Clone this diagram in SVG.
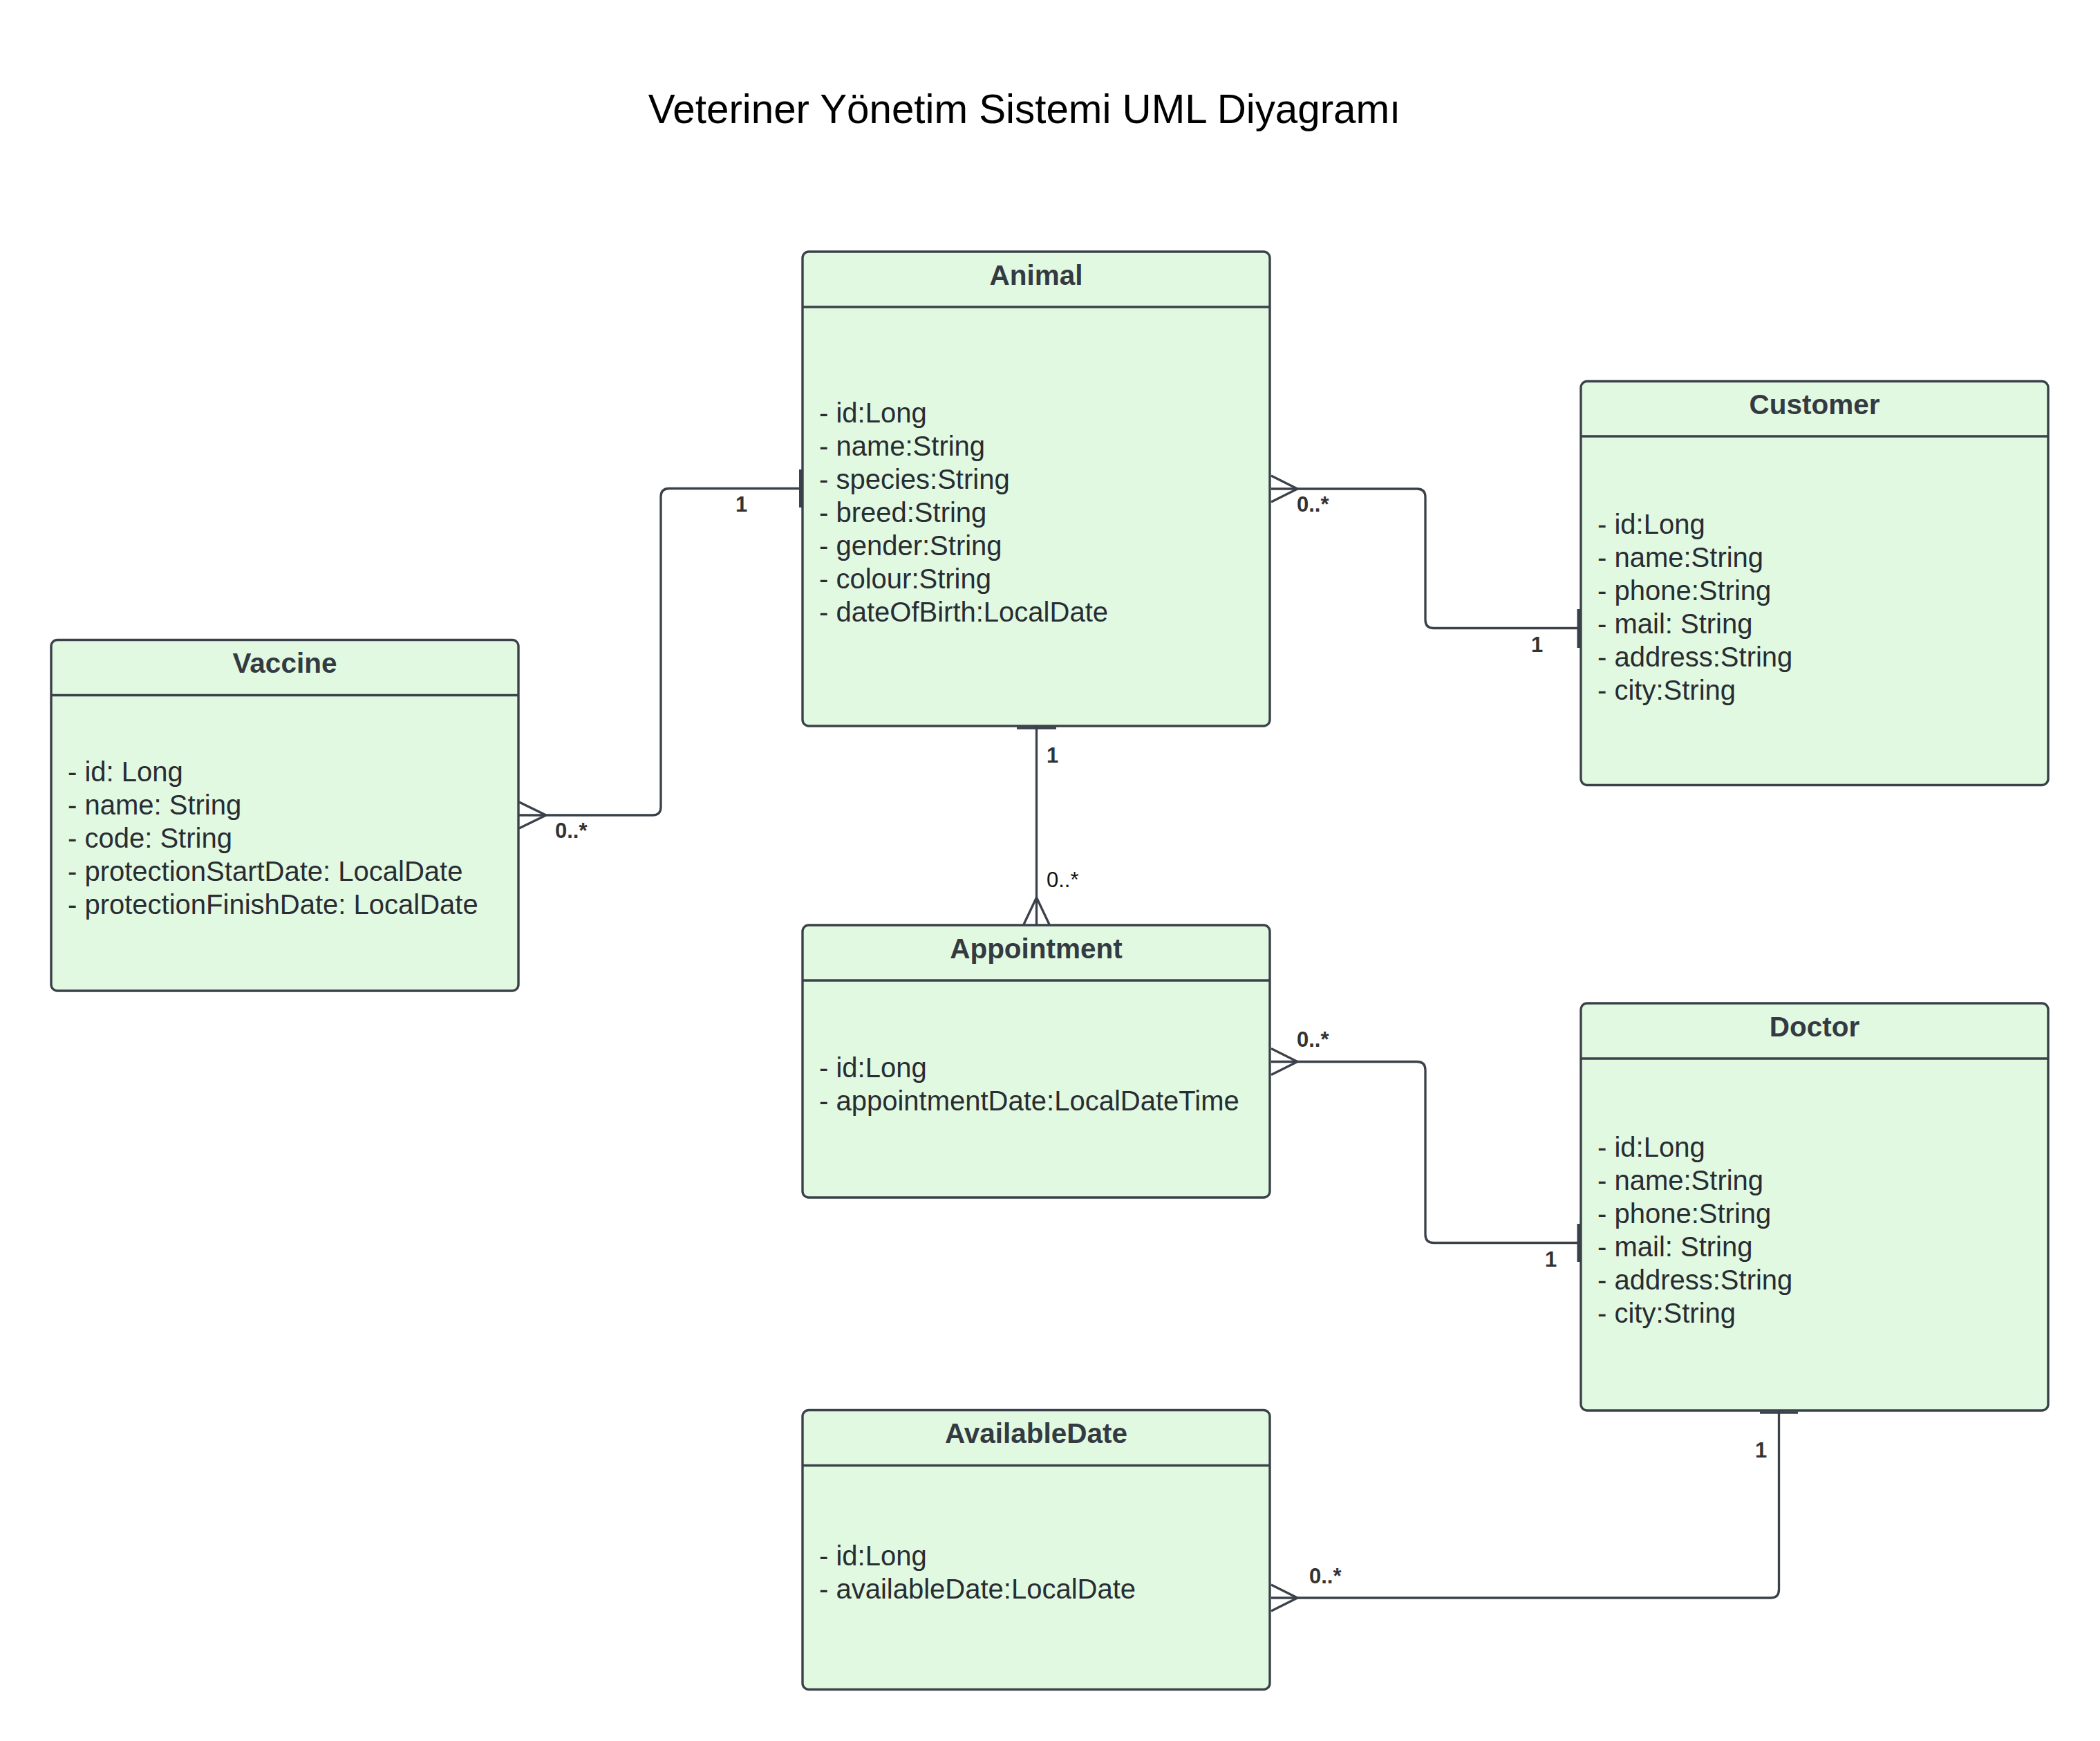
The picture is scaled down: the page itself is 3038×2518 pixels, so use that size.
<svg xmlns="http://www.w3.org/2000/svg" width="3038" height="2518" viewBox="0 0 3038 2518">
<style>
.box{fill:#e2f9e1;stroke:#3a414a;stroke-width:3.4}
.sep{stroke:#3a414a;stroke-width:3.4;fill:none}
.hd{font-family:"Liberation Sans",Arial,sans-serif;font-weight:bold;font-size:40.5px;fill:#333a42;text-anchor:middle}
.at{font-family:"Liberation Sans",Arial,sans-serif;font-size:40px;fill:#282c33}
.ln{fill:none;stroke:#3a414a;stroke-width:3.3;stroke-linejoin:round}
.bar{fill:none;stroke:#3a414a;stroke-width:5}
.lb{font-family:"Liberation Sans",Arial,sans-serif;font-weight:bold;font-size:31px;fill:#333}
.lr{font-family:"Liberation Sans",Arial,sans-serif;font-size:31px;fill:#111}
</style>
<rect width="3038" height="2518" fill="#fff"/>
<text x="1482" y="178" font-family="'Liberation Sans',Arial,sans-serif" font-size="58.3" fill="#000" text-anchor="middle">Veteriner Yönetim Sistemi UML Diyagramı</text>

<g id="connectors">
<path class="ln" d="M751 1179 H944 Q956 1179 956 1167 V718.5 Q956 706.5 968 706.5 H1161"/>
<path class="ln" d="M751 1160 L790 1179 L751 1198"/>
<path class="bar" d="M1158.5 679 V734"/>
<text class="lb" x="803" y="1212">0..*</text>
<text class="lb" x="1064" y="740">1</text>

<path class="ln" d="M1839 707 H2050 Q2062 707 2062 719 V896.5 Q2062 908.5 2074 908.5 H2287"/>
<path class="ln" d="M1839 688 L1877 707 L1839 726"/>
<path class="bar" d="M2284 881 V937"/>
<text class="lb" x="1876" y="740">0..*</text>
<text class="lb" x="2215" y="943">1</text>

<path class="ln" d="M1499.5 1050 V1338"/>
<path class="ln" d="M1481 1337 L1499.5 1298 L1518 1337"/>
<path class="bar" style="stroke-width:3.6" d="M1471 1053 H1528"/>
<text class="lb" x="1514" y="1103">1</text>
<text class="lr" x="1514" y="1283">0..*</text>

<path class="ln" d="M1839 1535.5 H2050 Q2062 1535.5 2062 1547.5 V1785.5 Q2062 1797.5 2074 1797.5 H2287"/>
<path class="ln" d="M1839 1516.5 L1877 1535.5 L1839 1554.5"/>
<path class="bar" d="M2284 1770 V1825"/>
<text class="lb" x="1876" y="1514">0..*</text>
<text class="lb" x="2235" y="1832">1</text>

<path class="ln" d="M2573.5 2040 V2299 Q2573.5 2311 2561.5 2311 H1839"/>
<path class="ln" d="M1839 2292 L1877 2311 L1839 2330"/>
<path class="bar" style="stroke-width:3.6" d="M2546 2043 H2601"/>
<text class="lb" x="1894" y="2290">0..*</text>
<text class="lb" x="2539" y="2108">1</text>
</g>

<g id="animal">
<rect class="box" x="1161" y="364" width="676" height="686" rx="9"/>
<path class="sep" d="M1161 444 H1837"/>
<text class="hd" x="1499" y="412">Animal</text>
<text class="at" x="1185" y="611">- id:Long</text>
<text class="at" x="1185" y="659">- name:String</text>
<text class="at" x="1185" y="707">- species:String</text>
<text class="at" x="1185" y="755">- breed:String</text>
<text class="at" x="1185" y="803">- gender:String</text>
<text class="at" x="1185" y="851">- colour:String</text>
<text class="at" x="1185" y="899">- dateOfBirth:LocalDate</text>
</g>

<g id="customer">
<rect class="box" x="2287" y="551.5" width="676" height="584" rx="9"/>
<path class="sep" d="M2287 631 H2963"/>
<text class="hd" x="2625" y="599">Customer</text>
<text class="at" x="2311" y="772">- id:Long</text>
<text class="at" x="2311" y="820">- name:String</text>
<text class="at" x="2311" y="868">- phone:String</text>
<text class="at" x="2311" y="916">- mail: String</text>
<text class="at" x="2311" y="964">- address:String</text>
<text class="at" x="2311" y="1012">- city:String</text>
</g>

<g id="vaccine">
<rect class="box" x="74" y="925.5" width="676" height="507.5" rx="9"/>
<path class="sep" d="M74 1005.5 H750"/>
<text class="hd" x="412" y="973">Vaccine</text>
<text class="at" x="98" y="1130">- id: Long</text>
<text class="at" x="98" y="1178">- name: String</text>
<text class="at" x="98" y="1226">- code: String</text>
<text class="at" x="98" y="1274">- protectionStartDate: LocalDate</text>
<text class="at" x="98" y="1322">- protectionFinishDate: LocalDate</text>
</g>

<g id="appointment">
<rect class="box" x="1161" y="1338" width="676" height="394" rx="9"/>
<path class="sep" d="M1161 1418 H1837"/>
<text class="hd" x="1499" y="1386">Appointment</text>
<text class="at" x="1185" y="1558">- id:Long</text>
<text class="at" x="1185" y="1606">- appointmentDate:LocalDateTime</text>
</g>

<g id="doctor">
<rect class="box" x="2287" y="1451" width="676" height="589" rx="9"/>
<path class="sep" d="M2287 1531 H2963"/>
<text class="hd" x="2625" y="1499">Doctor</text>
<text class="at" x="2311" y="1673">- id:Long</text>
<text class="at" x="2311" y="1721">- name:String</text>
<text class="at" x="2311" y="1769">- phone:String</text>
<text class="at" x="2311" y="1817">- mail: String</text>
<text class="at" x="2311" y="1865">- address:String</text>
<text class="at" x="2311" y="1913">- city:String</text>
</g>

<g id="availabledate">
<rect class="box" x="1161" y="2039.5" width="676" height="404" rx="9"/>
<path class="sep" d="M1161 2119.5 H1837"/>
<text class="hd" x="1499" y="2087">AvailableDate</text>
<text class="at" x="1185" y="2264">- id:Long</text>
<text class="at" x="1185" y="2312">- availableDate:LocalDate</text>
</g>
</svg>
